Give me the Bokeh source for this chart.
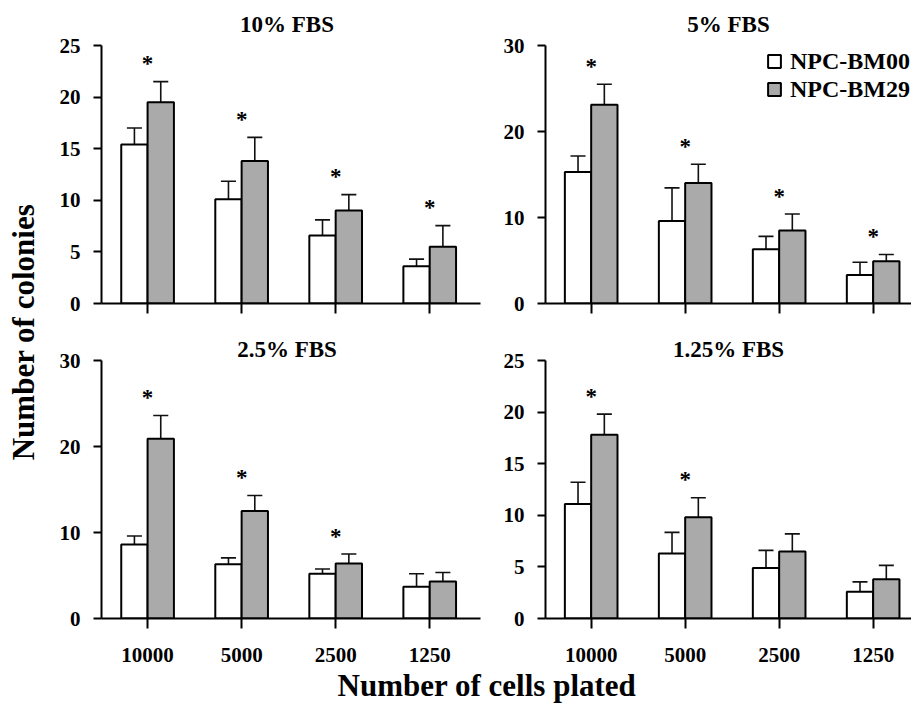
import math
from bokeh.plotting import figure
from bokeh.models import Range1d, FixedTicker, Label
from bokeh.layouts import row, column
from bokeh.embed import file_html
from bokeh.resources import INLINE
from bokeh.core.properties import value

# ---------------- data ----------------
cells = ["10000", "5000", "2500", "1250"]
series_names = ["NPC-BM00", "NPC-BM29"]
panel_titles = ["10% FBS", "5% FBS", "2.5% FBS", "1.25% FBS"]

bm00_fbs10 = [15.4, 10.1, 6.6, 3.6]
bm00_fbs10_err = [1.6, 1.75, 1.5, 0.7]
bm29_fbs10 = [19.5, 13.8, 9.0, 5.5]
bm29_fbs10_err = [2.0, 2.3, 1.55, 2.05]
sig_fbs10 = [True, True, True, True]

bm00_fbs5 = [15.3, 9.6, 6.3, 3.3]
bm00_fbs5_err = [1.85, 3.85, 1.5, 1.5]
bm29_fbs5 = [23.1, 14.0, 8.5, 4.9]
bm29_fbs5_err = [2.4, 2.2, 1.9, 0.8]
sig_fbs5 = [True, True, True, True]

bm00_fbs2_5 = [8.6, 6.3, 5.2, 3.7]
bm00_fbs2_5_err = [1.0, 0.75, 0.55, 1.5]
bm29_fbs2_5 = [20.9, 12.5, 6.4, 4.3]
bm29_fbs2_5_err = [2.7, 1.8, 1.1, 1.05]
sig_fbs2_5 = [True, True, True, False]

bm00_fbs1_25 = [11.1, 6.3, 4.9, 2.6]
bm00_fbs1_25_err = [2.1, 2.05, 1.7, 0.95]
bm29_fbs1_25 = [17.8, 9.8, 6.5, 3.8]
bm29_fbs1_25_err = [2.0, 1.9, 1.7, 1.35]
sig_fbs1_25 = [True, True, False, False]

y_max = [25, 30, 30, 25]
yticks_fbs10 = [0, 5, 10, 15, 20, 25]
yticks_fbs5 = [0, 10, 20, 30]
yticks_fbs2_5 = [0, 10, 20, 30]
yticks_fbs1_25 = [0, 5, 10, 15, 20, 25]

x_title = "Number of cells plated"
y_title = "Number of colonies"

# ---------------- style ----------------
FONT = "Liberation Serif"
WHITE = "#ffffff"
GREY = "#aaaaaa"
BAR_W = 0.28
CAP_HALF = 0.08
AXIS_H = 258  # pixel height of the value axis (0..max)


def make_panel(title, a, a_err, b, b_err, sig, ymax, yticks, left, top_row, legend=False):
    if left:
        fw, xr, mbl, mbr, tdx = 379, Range1d(-0.49, 3.54), 53, 10, -4
    else:
        fw, xr, mbl, mbr, tdx = 366, Range1d(-0.486, 3.408), 55, 0, 0
    if top_row:
        fh, mbb, title_y = 303, 22, 279.1
    else:
        fh, mbb, title_y = 293, 50, 269.1

    p = figure(frame_width=fw, frame_height=fh, x_range=xr,
               y_range=Range1d(0, ymax * fh / AXIS_H),
               output_backend="svg", toolbar_location=None,
               min_border_left=mbl, min_border_right=mbr,
               min_border_top=0, min_border_bottom=mbb)
    p.xgrid.visible = False
    p.ygrid.visible = False
    p.outline_line_color = None
    p.background_fill_color = "white"
    p.border_fill_color = "white"

    idx = list(range(len(cells)))
    xa = [i - BAR_W / 2 for i in idx]
    xb = [i + BAR_W / 2 for i in idx]
    ta = [m + e for m, e in zip(a, a_err)]
    tb = [m + e for m, e in zip(b, b_err)]

    # error bars (upper only)
    for xs, m, t in ((xa, a, ta), (xb, b, tb)):
        p.segment(x0=xs, y0=m, x1=xs, y1=t, line_color="#111111", line_width=1.6)
        p.segment(x0=[x - CAP_HALF for x in xs], y0=t, x1=[x + CAP_HALF for x in xs], y1=t,
                  line_color="#111111", line_width=1.6)

    kw_a = dict(legend_label=series_names[0]) if legend else {}
    kw_b = dict(legend_label=series_names[1]) if legend else {}
    p.vbar(x=xa, top=a, width=BAR_W, bottom=0, fill_color=WHITE, line_color="black",
           line_width=2, **kw_a)
    p.vbar(x=xb, top=b, width=BAR_W, bottom=0, fill_color=GREY, line_color="black",
           line_width=2, **kw_b)

    # significance stars
    sx = [i for i, s in zip(idx, sig) if s]
    sy = [max(u, v) for u, v, s in zip(ta, tb, sig) if s]
    p.text(x=sx, y=sy, text=["*"] * len(sx), text_font=value(FONT), text_font_style="bold",
           text_font_size="23px", text_align="center", text_baseline="middle",
           y_offset=-18, text_color="black")

    # axes
    for ax in (p.xaxis[0], p.yaxis[0]):
        ax.axis_line_width = 2
        ax.axis_line_color = "black"
        ax.major_tick_line_width = 2
        ax.major_tick_line_color = "black"
        ax.major_tick_in = 0
        ax.minor_tick_line_color = None
        ax.major_label_text_font = FONT
        ax.major_label_text_font_style = "bold"
        ax.major_label_text_font_size = "21px"
        ax.major_label_text_color = "black"
    p.yaxis.ticker = FixedTicker(ticks=yticks)
    p.yaxis.bounds = (0, ymax)
    p.yaxis.major_tick_out = 8
    p.yaxis.major_label_standoff = 13
    p.xaxis.ticker = FixedTicker(ticks=idx)
    p.xaxis.major_tick_out = 10
    if top_row:
        p.xaxis.major_label_overrides = {i: "" for i in idx}
        p.xaxis.major_label_text_font_size = "0px"
        p.xaxis.major_label_standoff = 0
    else:
        p.xaxis.major_label_overrides = {i: c for i, c in zip(idx, cells)}
        p.xaxis.major_label_standoff = 19

    p.add_layout(Label(x=fw / 2 + tdx, y=title_y, x_units="screen", y_units="screen",
                       text=title, text_font=FONT, text_font_style="bold",
                       text_font_size="23px", text_align="center", text_baseline="middle",
                       text_color="black"))

    if legend:
        lg = p.legend[0]
        lg.location = (221, 200)
        lg.border_line_color = None
        lg.background_fill_alpha = 0
        lg.padding = 0
        lg.margin = 0
        lg.spacing = 0
        lg.glyph_width = 16
        lg.glyph_height = 16
        lg.label_height = 28
        lg.label_standoff = 8
        lg.label_text_font = FONT
        lg.label_text_font_style = "bold"
        lg.label_text_font_size = "24px"
        lg.label_text_color = "black"
    return p


p1 = make_panel(panel_titles[0], bm00_fbs10, bm00_fbs10_err, bm29_fbs10, bm29_fbs10_err,
                sig_fbs10, y_max[0], yticks_fbs10, left=True, top_row=True)
p2 = make_panel(panel_titles[1], bm00_fbs5, bm00_fbs5_err, bm29_fbs5, bm29_fbs5_err,
                sig_fbs5, y_max[1], yticks_fbs5, left=False, top_row=True, legend=True)
p3 = make_panel(panel_titles[2], bm00_fbs2_5, bm00_fbs2_5_err, bm29_fbs2_5, bm29_fbs2_5_err,
                sig_fbs2_5, y_max[2], yticks_fbs2_5, left=True, top_row=False)
p4 = make_panel(panel_titles[3], bm00_fbs1_25, bm00_fbs1_25_err, bm29_fbs1_25, bm29_fbs1_25_err,
                sig_fbs1_25, y_max[3], yticks_fbs1_25, left=False, top_row=False)


def blank(w, h):
    f = figure(width=w, height=h, x_range=Range1d(0, 1), y_range=Range1d(0, 1),
               output_backend="svg", toolbar_location=None, min_border=0,
               x_axis_location=None, y_axis_location=None)
    f.xgrid.visible = False
    f.ygrid.visible = False
    f.outline_line_color = None
    return f


yt = blank(48, 709)
yt.add_layout(Label(x=22.5, y=377.5, x_units="screen", y_units="screen", text=y_title,
                    angle=math.pi / 2, text_font=FONT, text_font_style="bold",
                    text_font_size="31px", text_align="center", text_baseline="middle",
                    text_color="black"))

xt = blank(863, 41)
xt.add_layout(Label(x=438.5, y=24.5, x_units="screen", y_units="screen", text=x_title,
                    text_font=FONT, text_font_style="bold", text_font_size="31px",
                    text_align="center", text_baseline="middle", text_color="black"))

layout = row(yt, column(row(p1, p2), row(p3, p4), xt))

open("out.html", "w").write(file_html(layout, INLINE))
